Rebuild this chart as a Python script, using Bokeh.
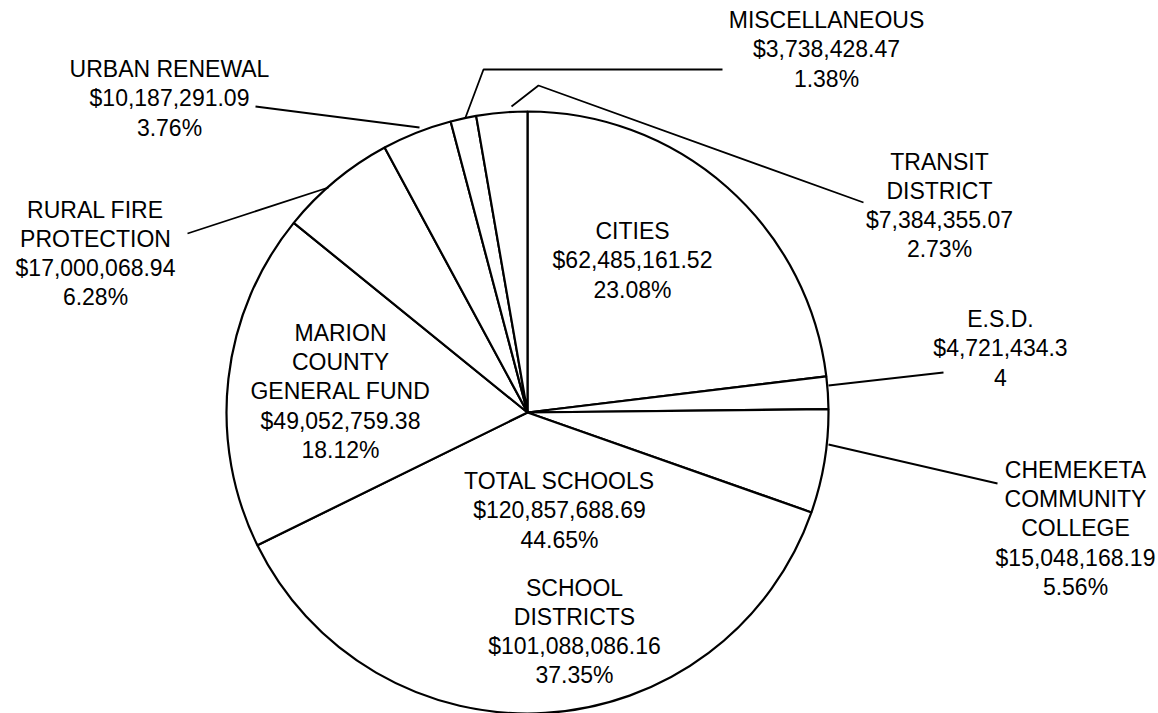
import numpy as np
from bokeh.plotting import figure
from bokeh.models import ColumnDataSource, Range1d
from bokeh.core.properties import value
from bokeh.embed import file_html
from bokeh.resources import INLINE

# ---- data (clockwise from 12 o'clock) ----
categories = ["CITIES", "E.S.D.", "CHEMEKETA COMMUNITY COLLEGE", "SCHOOL DISTRICTS",
              "MARION COUNTY GENERAL FUND", "RURAL FIRE PROTECTION", "URBAN RENEWAL",
              "MISCELLANEOUS", "TRANSIT DISTRICT"]
amounts = [62485161.52, 4721434.34, 15048168.19, 101088086.16,
           49052759.38, 17000068.94, 10187291.09, 3738428.47, 7384355.07]
label_texts = [
    "CITIES\n$62,485,161.52\n23.08%",
    "E.S.D.\n$4,721,434.3\n4",
    "CHEMEKETA\nCOMMUNITY\nCOLLEGE\n$15,048,168.19\n5.56%",
    "SCHOOL\nDISTRICTS\n$101,088,086.16\n37.35%",
    "MARION\nCOUNTY\nGENERAL FUND\n$49,052,759.38\n18.12%",
    "RURAL FIRE\nPROTECTION\n$17,000,068.94\n6.28%",
    "URBAN RENEWAL\n$10,187,291.09\n3.76%",
    "MISCELLANEOUS\n$3,738,428.47\n1.38%",
    "TRANSIT\nDISTRICT\n$7,384,355.07\n2.73%",
]
total_schools_text = "TOTAL SCHOOLS\n$120,857,688.69\n44.65%"

# ---- layout (pixel coordinates, y up) ----
W, H = 1158, 713
def Y(y_img):
    return H - y_img

cx, cy, R = 527, Y(412), 301

# label block centres (image pixel coords)
label_pos = [(632, 260), (1000, 348), (1075, 528), (574, 631), (340, 391),
             (95, 253), (169, 98), (826, 49), (939, 205)]
total_pos = (559, 510)

# leader polylines (image pixel coords)
leaders = [
    [(828, 385), (943, 372)],                 # E.S.D.
    [(828, 444), (997, 483)],                 # Chemeketa
    [(328, 187), (187, 233)],                 # Rural fire
    [(419, 127), (255, 106)],                 # Urban renewal
    [(465, 117), (483, 69), (722, 69)],       # Miscellaneous
    [(511, 106), (538, 85), (863, 202)],      # Transit
]

p = figure(width=W, height=H, x_range=Range1d(0, W), y_range=Range1d(0, H),
           output_backend="svg", toolbar_location=None, min_border=0,
           outline_line_color=None, background_fill_color="white",
           border_fill_color="white")
p.axis.visible = False
p.grid.visible = False

vals = np.array(amounts)
frac = vals / vals.sum()
cum_end = np.cumsum(frac)
cum_start = cum_end - frac
start_angle = np.pi / 2 - cum_end * 2 * np.pi
end_angle = np.pi / 2 - cum_start * 2 * np.pi

src = ColumnDataSource(dict(start=start_angle, end=end_angle, cat=categories))
p.wedge(x=cx, y=cy, radius=R, start_angle="start", end_angle="end", source=src,
        fill_color="white", line_color="black", line_width=2.2)

for pts in leaders:
    p.line([q[0] for q in pts], [Y(q[1]) for q in pts], line_color="black", line_width=1.8)

font = value("Liberation Sans")
fs = "23px"
lsrc = ColumnDataSource(dict(x=[lp[0] for lp in label_pos], y=[Y(lp[1]) for lp in label_pos],
                             t=label_texts))
p.text(x="x", y="y", text="t", source=lsrc, text_align="center", text_baseline="middle",
       text_font=font, text_font_size=fs, text_line_height=1.12, text_color="black")
p.text(x=[total_pos[0]], y=[Y(total_pos[1])], text=[total_schools_text], text_align="center",
       text_baseline="middle", text_font=font, text_font_size=fs, text_line_height=1.12,
       text_color="black")

open("out.html", "w").write(file_html(p, INLINE))
